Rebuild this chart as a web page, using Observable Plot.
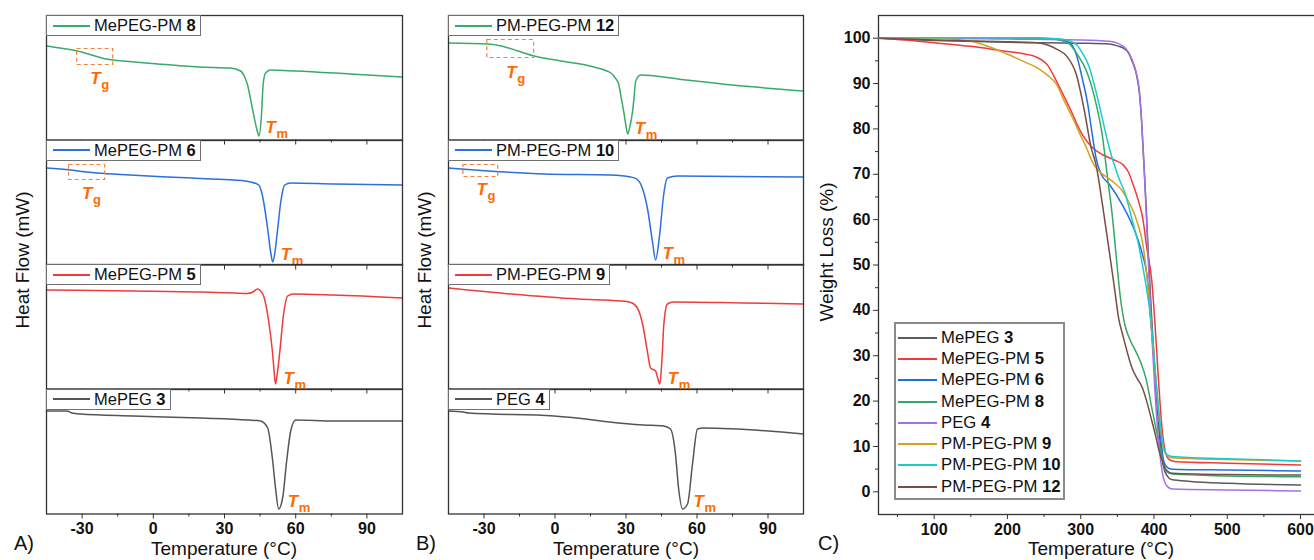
<!DOCTYPE html>
<html>
<head>
<meta charset="utf-8">
<script src="https://cdn.jsdelivr.net/npm/d3@7"></script>
<script src="https://cdn.jsdelivr.net/npm/@observablehq/plot@0.6"></script>
<style>
  html,body{margin:0;padding:0;background:#fff;}
  body{font-family:"Liberation Sans",Arial,sans-serif;color:#111;overflow:hidden;}
  #root{position:relative;width:1314px;height:560px;overflow:hidden;background:#fff;}
  #root svg{position:absolute;overflow:visible;max-width:none;background:transparent;}
  .lbl{position:absolute;white-space:nowrap;line-height:1;}
  .ylab{transform:translate(-50%,-50%) rotate(-90deg);font-size:19px;}
  .xlab{transform:translate(-50%,-50%);font-size:19px;}
  .plab{font-size:20px;}
  .leg{position:absolute;box-sizing:border-box;height:21px;background:#fff;border:1px solid #707070;display:flex;align-items:center;padding:0 4px 0 6px;font-size:16.5px;white-space:nowrap;}
  .sw{display:inline-block;width:37px;height:2px;margin-right:4px;vertical-align:middle;}
  #legC{position:absolute;left:894px;top:322px;width:171px;height:178px;box-sizing:border-box;border:2px solid #8a8a8a;background:#fff;padding:3px 0 0 2px;}
  #legC .row{height:21.3px;display:flex;align-items:center;font-size:16.7px;white-space:nowrap;}
  #legC .sw{width:39px;margin-right:4px;}
</style>
</head>
<body>
<div id="root"></div>
<script>
const FONT = '"Liberation Sans", Arial, sans-serif';
const ORANGE = "#ff6a00";

// ---------- DSC data: [temperature °C, heat flow (arbitrary, stacked panel units)] ----------
const mepegPM8 = [[-45,94],[-38,91.5],[-32,89],[-26,85],[-21,81.5],[-15,79.5],[-8,78],[2,76],[13,74],[25,72.5],[32.5,72],[36.8,69],[38.5,63],[39.6,56],[41.7,32],[43.8,9],[44.5,4],[45.5,22],[46.3,56],[47.3,67],[49.4,70],[60,69],[83,66],[105,63]];
const mepegPM6 = [[-45,97],[-35,95],[-30,93.5],[-23.7,92],[-10,90],[5.9,88],[20,86.5],[33.8,85],[41,83],[44.4,80],[45.5,74],[46.5,63],[48.2,36],[49.5,12],[50.3,3],[51.2,12],[52.4,36],[53.7,63],[54.5,74],[55.4,80],[57.9,82],[76,81],[105,80]];
const mepegPM5 = [[-45,99],[-8.5,98],[20,97],[33.8,96],[39.7,95.5],[42,97],[43.9,100],[45.2,98],[46.5,93],[48.6,68],[50.3,35],[51,15],[51.5,5],[52.2,15],[53.2,35],[54.9,75],[56.6,93],[59.1,95],[76,94],[105,91]];
const mepeg3 = [[-45,103],[-36.3,103],[-34.2,101],[-30.8,100],[-8.5,98],[19.9,96],[40,94],[45.2,93],[48.2,86],[50.3,53],[51.5,26],[52.8,5],[54.5,16],[56.2,53],[57.9,83],[60,94],[76,93],[105,93]];

const pmpegpm12 = [[-45,97],[-28.2,96],[-22.7,94],[-15.6,89],[-8.8,84],[2.5,79],[16.4,73],[23.6,67],[25.5,62],[26.9,56],[28,42],[29,29],[30,14],[30.7,6],[31.8,15],[32.8,29],[33.5,45],[34.1,59],[36.2,65],[51.8,61],[79.5,54],[105,49]];
const pmpegpm10 = [[-45,97],[-28.2,94],[-4.6,91],[23.6,90],[32,88],[34.5,86],[36.2,81],[37.8,70],[39.1,56],[41.2,23],[42.5,5],[44.2,30],[45.9,70],[47.5,87],[51.8,89],[105,88]];
const pmpegpm9 = [[-45,101],[-18.5,95],[9.7,90],[27.8,88],[32,86.5],[34.8,81],[37,65],[39,38],[40.4,21],[42.5,18],[43.5,10],[44.3,5],[45.2,30],[46,65],[47.5,85],[50.1,87],[79.5,86],[105,85]];
const peg4 = [[-45,103],[-38.7,102],[-36.6,101],[-0.4,98],[37.4,89],[45.9,88],[48.8,85],[50.9,60],[52.2,26],[53.9,5],[56,10],[58.1,50],[60.2,85],[62.7,86],[105,80]];

const dscXDomain = [-45, 105];
const dscMajorTicks = [-30, 0, 30, 60, 90];
const dscMinorTicks = [-15, 15, 45, 75];

const panelANames = ["MePEG-PM ", "MePEG-PM ", "MePEG-PM ", "MePEG "];
const panelANums = ["8", "6", "5", "3"];
const panelAData = [mepegPM8, mepegPM6, mepegPM5, mepeg3];
const panelBNames = ["PM-PEG-PM ", "PM-PEG-PM ", "PM-PEG-PM ", "PEG "];
const panelBNums = ["12", "10", "9", "4"];
const panelBData = [pmpegpm12, pmpegpm10, pmpegpm9, peg4];
const dscColors = ["#3aaa6c", "#2a70e0", "#ee3b3b", "#555555"];

// annotation anchors (data units)
const tmA = [[47.3,7],[53.7,5],[54.9,5],[56.6,7]];
const tmB = [[33.7,6],[45.4,6],[47.6,5],[58.5,7]];
const tgA = [{x1:-32.1,x2:-16.9,y1:75,y2:91,lx:-26.6,ly:56},{x1:-35.5,x2:-20.3,y1:85,y2:100,lx:-30,ly:66},null,null];
const tgB = [{x1:-28.6,x2:-8.8,y1:82,y2:100,lx:-20.6,ly:62},{x1:-38.7,x2:-24,y1:88,y2:100,lx:-33.2,ly:70},null,null];

// ---------- TGA data: [temperature °C, weight %] ----------
const tgaMePEG3 = [[25,100],[100,99.5],[200,99.1],[300,98.9],[339,98.7],[350,98.3],[357,97.9],[365,96.8],[370,95],[376,92],[380,88],[383,82],[386,73],[389,64],[393,50],[397,38],[403,22],[409,10],[413,5.5],[418,3.5],[424,2.7],[450,2.3],[500,1.9],[600,1.5]];
const tgaMePEGPM5 = [[25,100],[60,99.6],[100,99],[150,98.2],[194,97.2],[220,96.6],[240,95.8],[255,94],[267,90.5],[285,84.6],[302,78.8],[315,76],[330,74.3],[345,73.2],[357,72.2],[365,70.5],[372,67.5],[379,64],[385,60],[390,54],[397,46.5],[401,38],[406,25],[411,14],[416,8.5],[420,7.2],[428,6.7],[500,6.3],[600,5.9]];
const tgaMePEGPM6 = [[25,100],[100,100.1],[200,100.1],[260,99.9],[275,99.6],[285,99],[294,96.4],[302,91.2],[309,86],[316,78.5],[321,73.5],[328,70],[339,67.8],[357,63.2],[375,57],[384,52.5],[391,47],[396,37],[402,25],[408,14],[413,7],[418,5.4],[425,5.0],[500,4.8],[600,4.6]];
const tgaMePEGPM8 = [[25,100],[100,100.1],[200,100.1],[260,99.9],[275,99.4],[285,98.7],[295,96.5],[308,92.7],[321,85.5],[330,78],[336,70],[343,61],[349,51],[354,43],[360,37],[366,34],[375,31],[382,28.5],[389,25],[397,18.5],[402,14.5],[407,10.6],[412,7],[416,4.6],[425,3.9],[500,3.5],[600,3.3]];
const tgaPEG4 = [[25,100],[100,100],[200,99.8],[300,99.6],[339,99.3],[350,98.9],[357,98.3],[365,97],[370,95.3],[376,92.3],[380,88.5],[383,82],[386,73],[389,63],[393,48],[397,35],[403,18],[409,7],[413,3],[418,1.2],[425,0.6],[500,0.4],[600,0.2]];
const tgaPMPEGPM9 = [[25,100],[100,100],[149,99.4],[170,98.4],[194,96.9],[220,95],[240,93.5],[255,91.8],[267,89.8],[278,86],[289,82.4],[300,78.5],[308,75.8],[315,73],[321,71.4],[330,70],[339,69],[348,67.8],[357,66.3],[365,64],[370,62.5],[378,59],[384,55.3],[391,46.5],[396,37],[402,26],[408,15],[414,9],[419,7.8],[425,7.5],[500,7.1],[600,6.8]];
const tgaPMPEGPM10 = [[25,100],[100,100.1],[200,100.1],[270,99.9],[285,99.4],[294,98.6],[303,96.5],[312,93.5],[318,90],[325,85.5],[332,80.5],[339,75.8],[345,72.5],[352,69.2],[361,65.6],[367,62],[373,58.2],[379,54.5],[384,50.2],[391,43.6],[396,37.7],[401,28],[407,17],[413,10],[418,8.2],[425,7.8],[500,7.3],[600,6.8]];
const tgaPMPEGPM12 = [[25,100],[100,99.6],[200,99.2],[240,99],[255,98.5],[267,97.6],[281,96],[294,92],[305,84],[314,76],[321,72],[330,63],[339,53],[346,45],[352,38],[357,34.8],[364,30.5],[370,27.3],[377,25],[384,23],[390,20],[396,16.3],[402,12.5],[407,9],[412,6.5],[416,5],[425,4.1],[500,3.8],[600,3.7]];

const tgaNames = ["MePEG ", "MePEG-PM ", "MePEG-PM ", "MePEG-PM ", "PEG ", "PM-PEG-PM ", "PM-PEG-PM ", "PM-PEG-PM "];
const tgaNums = ["3", "5", "6", "8", "4", "9", "10", "12"];
const tgaData = [tgaMePEG3, tgaMePEGPM5, tgaMePEGPM6, tgaMePEGPM8, tgaPEG4, tgaPMPEGPM9, tgaPMPEGPM10, tgaPMPEGPM12];
const tgaColors = ["#5a5a5a", "#f2393a", "#1f6ee6", "#33a866", "#a66fe6", "#d6a11c", "#20c9c9", "#7a4d44"];
const tgaXDomain = [24, 630];
const tgaYDomain = [-5, 105];
const tgaXMajor = [100, 200, 300, 400, 500, 600];
const tgaXMinor = [50, 150, 250, 350, 450, 550];
const tgaYMajor = [0, 10, 20, 30, 40, 50, 60, 70, 80, 90, 100];
const tgaYMinor = [5, 15, 25, 35, 45, 55, 65, 75, 85, 95];

// ---------- layout ----------
const root = document.getElementById("root");
const AXC = "#333";

function addLabel(cls, text, x, y) {
  const d = document.createElement("div");
  d.className = "lbl " + cls;
  d.textContent = text;
  d.style.left = x + "px"; d.style.top = y + "px";
  root.appendChild(d);
  return d;
}
function makeSwatch(color) {
  const sw = document.createElement("span");
  sw.className = "sw";
  sw.style.background = color;
  return sw;
}
function addLegendBox(name, num, color, left, top) {
  const d = document.createElement("div");
  d.className = "leg";
  d.style.left = left + "px"; d.style.top = top + "px";
  const t = document.createElement("span"); t.textContent = name;
  const b = document.createElement("b"); b.textContent = num;
  t.appendChild(b);
  d.appendChild(makeSwatch(color)); d.appendChild(t);
  root.appendChild(d);
}

function subscriptLabel(pt, main, sub) {
  return [
    Plot.text([pt], {x: d => d[0], y: d => d[1], text: () => main, textAnchor: "start", lineAnchor: "bottom",
      fill: ORANGE, fontSize: 17, fontWeight: "bold", fontStyle: "italic", fontFamily: FONT}),
    Plot.text([pt], {x: d => d[0], y: d => d[1], text: () => sub, textAnchor: "start", lineAnchor: "bottom",
      dx: 11, dy: 5, fill: ORANGE, fontSize: 13, fontWeight: "bold", fontFamily: FONT})
  ];
}

function dscPanel(frameLeft, frameW, names, nums, datas, tms, tgs) {
  const tops = [15, 139.5, 264, 388.5];
  const H = 124.5;
  for (let i = 0; i < 4; i++) {
    const isBottom = i === 3;
    const mL = 4, mR = 4, mT = 4, mB = isBottom ? 34 : 8;
    const marks = [
      Plot.line(datas[i], {x: d => d[0], y: d => d[1], stroke: dscColors[i], strokeWidth: 1.5, curve: "monotone-x"}),
      Plot.frame({stroke: AXC, strokeWidth: 1.3}),
      Plot.axisX(dscMinorTicks, {anchor: "bottom", tickSize: 3, tickFormat: () => "", stroke: AXC, label: null}),
      Plot.axisX(dscMajorTicks, {anchor: "bottom", tickSize: 5, tickPadding: 4,
        tickFormat: isBottom ? (d => String(d)) : (() => ""), fontSize: 16, fontWeight: "bold",
        fill: "#111", stroke: AXC, label: null, fontFamily: FONT}),
      ...subscriptLabel(tms[i], "T", "m")
    ];
    if (tgs[i]) {
      const g = tgs[i];
      marks.push(Plot.rect([g], {x1: "x1", x2: "x2", y1: "y1", y2: "y2", fill: "none", stroke: "#f0843c", strokeWidth: 1.2, strokeDasharray: "4,3"}));
      marks.push(...subscriptLabel([g.lx, g.ly], "T", "g"));
    }
    const svg = Plot.plot({
      width: frameW + mL + mR, height: H + mT + mB,
      marginLeft: mL, marginRight: mR, marginTop: mT, marginBottom: mB,
      x: {domain: dscXDomain},
      y: {domain: [0, H], axis: null},
      style: {fontFamily: FONT, fontSize: "16px", color: "#111", background: "transparent", overflow: "visible"},
      marks
    });
    svg.style.position = "absolute";
    svg.style.left = (frameLeft - mL) + "px";
    svg.style.top = (tops[i] - mT) + "px";
    root.appendChild(svg);
    addLegendBox(names[i], nums[i], dscColors[i], frameLeft, tops[i]);
  }
}

dscPanel(46, 356, panelANames, panelANums, panelAData, tmA, tgA);
dscPanel(448, 355, panelBNames, panelBNums, panelBData, tmB, tgB);

// TGA panel
{
  const mL = 60, mT = 2, mB = 32, mR = 0;
  const frameLeft = 878, frameTop = 15, frameW = 444, frameH = 499;
  const marks = [
    Plot.frame({stroke: AXC, strokeWidth: 1.3}),
    Plot.axisY(tgaYMinor, {anchor: "left", tickSize: 3, tickFormat: () => "", stroke: AXC, label: null}),
    Plot.axisY(tgaYMajor, {anchor: "left", tickSize: 5, tickPadding: 3, fontSize: 16, fontWeight: "bold", fill: "#111", stroke: AXC, label: null, fontFamily: FONT}),
    Plot.axisX(tgaXMinor, {anchor: "bottom", tickSize: 3, tickFormat: () => "", stroke: AXC, label: null}),
    Plot.axisX(tgaXMajor, {anchor: "bottom", tickSize: 5, tickPadding: 4, fontSize: 16, fontWeight: "bold", fill: "#111", stroke: AXC, label: null, fontFamily: FONT}),
  ];
  tgaData.forEach((d, i) => marks.push(Plot.line(d, {x: p => p[0], y: p => p[1], stroke: tgaColors[i], strokeWidth: 1.5, curve: "monotone-x"})));
  const svg = Plot.plot({
    width: frameW + mL + mR, height: frameH + mT + mB,
    marginLeft: mL, marginRight: mR, marginTop: mT, marginBottom: mB,
    x: {domain: tgaXDomain}, y: {domain: tgaYDomain},
    style: {fontFamily: FONT, fontSize: "16px", color: "#111", background: "transparent", overflow: "visible"},
    marks
  });
  svg.style.position = "absolute";
  svg.style.left = (frameLeft - mL) + "px";
  svg.style.top = (frameTop - mT) + "px";
  root.appendChild(svg);

  const leg = document.createElement("div");
  leg.id = "legC";
  tgaNames.forEach((n, i) => {
    const row = document.createElement("div"); row.className = "row";
    const t = document.createElement("span"); t.textContent = n;
    const b = document.createElement("b"); b.textContent = tgaNums[i];
    t.appendChild(b); row.appendChild(makeSwatch(tgaColors[i])); row.appendChild(t); leg.appendChild(row);
  });
  root.appendChild(leg);
}

// axis titles and panel letters
addLabel("ylab", "Heat Flow (mW)", 22, 260);
addLabel("ylab", "Heat Flow (mW)", 424, 260);
addLabel("ylab", "Weight Loss (%)", 826, 252);
addLabel("xlab", "Temperature (°C)", 224, 548);
addLabel("xlab", "Temperature (°C)", 626, 548);
addLabel("xlab", "Temperature (°C)", 1101, 548);
addLabel("plab", "A)", 14, 533);
addLabel("plab", "B)", 416, 533);
addLabel("plab", "C)", 818, 533);
</script>
</body>
</html>
